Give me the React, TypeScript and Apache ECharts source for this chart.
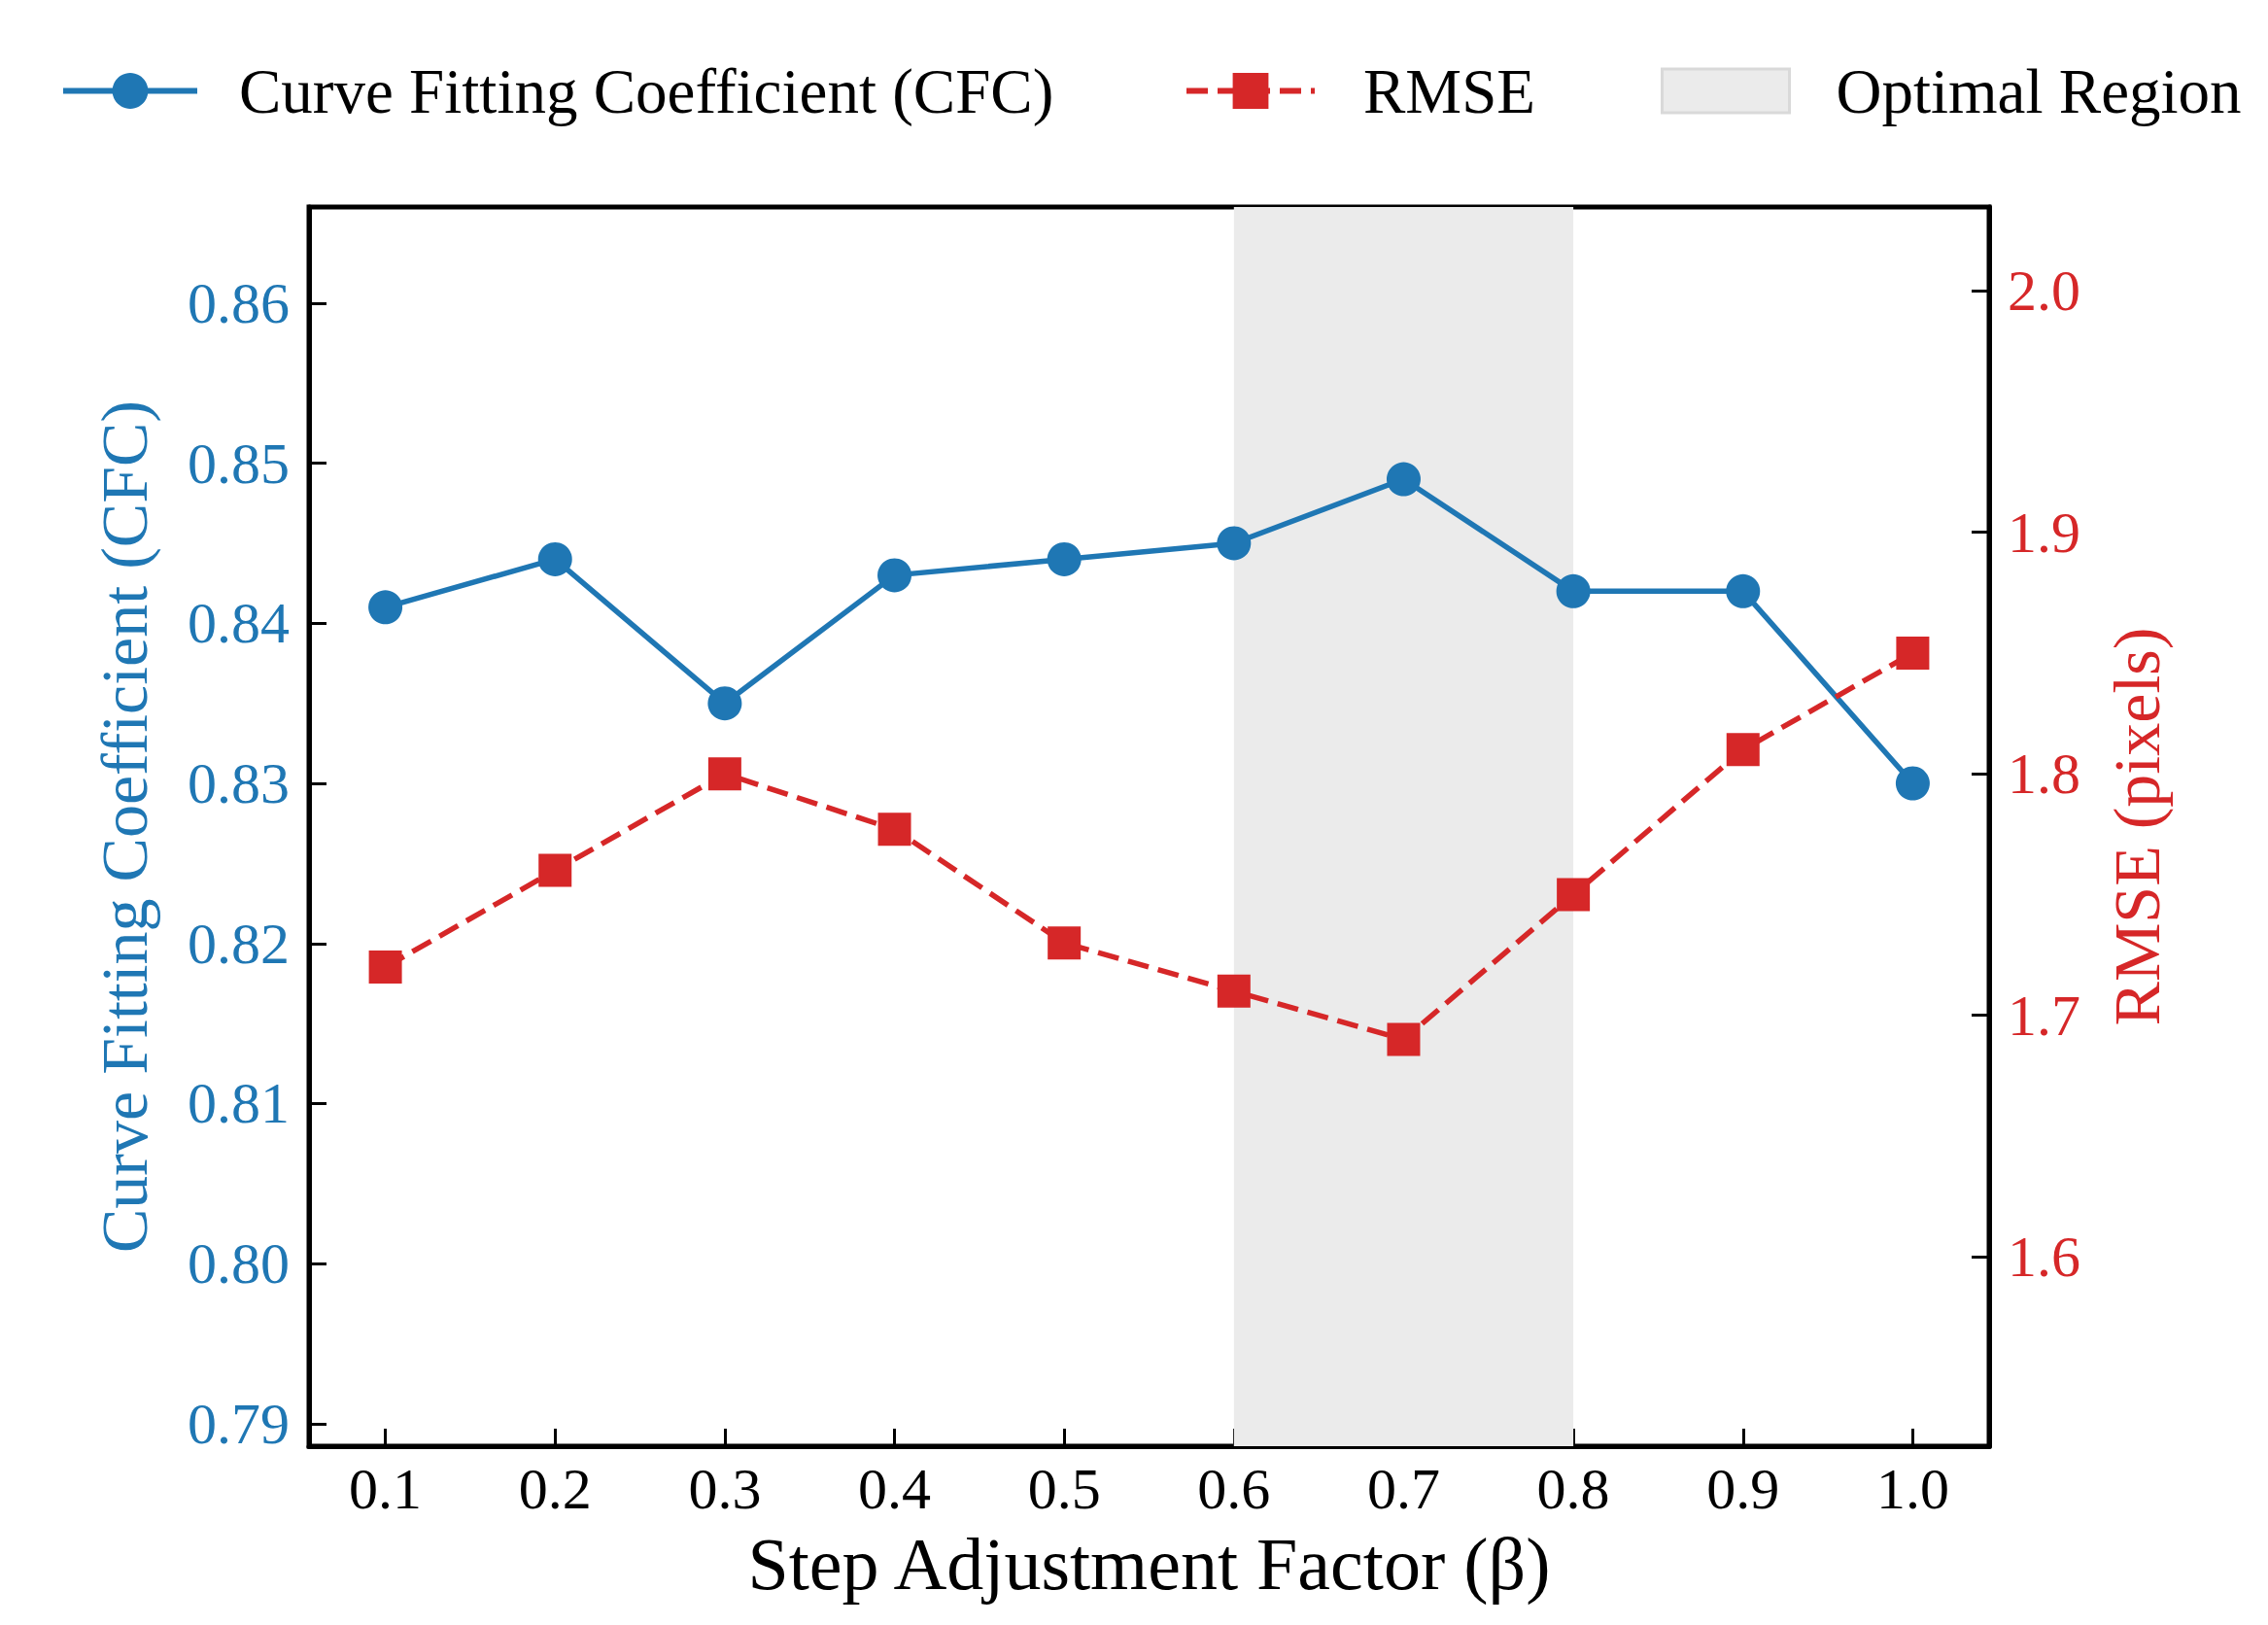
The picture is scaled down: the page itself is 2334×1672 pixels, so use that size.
import React, { useEffect, useRef } from "react";
import * as echarts from "echarts";

const betaValues = [0.1, 0.2, 0.3, 0.4, 0.5, 0.6, 0.7, 0.8, 0.9, 1.0];
const cfcValues = [0.841, 0.844, 0.835, 0.843, 0.844, 0.845, 0.849, 0.842, 0.842, 0.83];
const rmseValues = [1.72, 1.76, 1.8, 1.777, 1.73, 1.71, 1.69, 1.75, 1.81, 1.85];
const optimalRegion = [0.6, 0.8];
const leftTicks = [0.79, 0.8, 0.81, 0.82, 0.83, 0.84, 0.85, 0.86];
const rightTicks = [1.6, 1.7, 1.8, 1.9, 2.0];
const xTicks = [0.1, 0.2, 0.3, 0.4, 0.5, 0.6, 0.7, 0.8, 0.9, 1.0];

const BLUE = "#1f77b4";
const RED = "#d62728";
const FONT = "Liberation Serif";

export default function App() {
  const ref = useRef<HTMLDivElement>(null);
  useEffect(() => {
    if (!ref.current) return;
    const chart = echarts.init(ref.current, null, { renderer: "svg" });
    const legendText = (pad: number) => ({
      fontFamily: FONT,
      fontSize: 65,
      color: "#000",
      padding: [0, 0, 0, pad],
    });
    const tickStyle = { color: "#000", width: 3 };
    chart.setOption({
      animation: false,
      backgroundColor: "#fff",
      grid: {
        left: 318,
        top: 213,
        width: 1729,
        height: 1275,
        show: true,
        borderColor: "#000",
        borderWidth: 5,
        backgroundColor: "transparent",
      },
      legend: [
        {
          left: 57,
          top: 56,
          itemWidth: 138,
          itemHeight: 46,
          data: [{ name: "Curve Fitting Coefficient (CFC)" }],
          lineStyle: { width: 6, color: BLUE },
          textStyle: legendText(38),
        },
        {
          left: 1213,
          top: 56,
          itemWidth: 132,
          itemHeight: 46,
          data: [{ name: "RMSE" }],
          lineStyle: { width: 6, color: RED, type: [22, 10] },
          textStyle: legendText(45),
        },
        {
          left: 1704,
          top: 56,
          itemWidth: 131,
          itemHeight: 45,
          data: [
            {
              name: "Optimal Region",
              icon: "rect",
              itemStyle: { color: "#ebebeb", borderColor: "#d9d9d9", borderWidth: 3 },
            },
          ],
          textStyle: legendText(43),
        },
      ],
      xAxis: {
        type: "value",
        min: 0.055,
        max: 1.045,
        name: "Step Adjustment Factor (β)",
        nameLocation: "middle",
        nameGap: 83,
        nameTextStyle: { fontFamily: FONT, fontSize: 76, color: "#000" },
        axisLine: { show: true, lineStyle: { color: "#000", width: 5 } },
        axisTick: {
          show: true,
          inside: true,
          length: 18,
          lineStyle: tickStyle,
          customValues: xTicks,
        },
        axisLabel: {
          fontFamily: FONT,
          fontSize: 60,
          color: "#000",
          margin: 14,
          customValues: xTicks,
          formatter: (v: number) => v.toFixed(1),
        },
        splitLine: { show: false },
      },
      yAxis: [
        {
          type: "value",
          min: 0.7886,
          max: 0.866,
          position: "left",
          name: "Curve Fitting Coefficient (CFC)",
          nameLocation: "middle",
          nameRotate: 90,
          nameGap: 156,
          nameTextStyle: { fontFamily: FONT, fontSize: 68, color: BLUE },
          axisLine: { show: true, lineStyle: { color: "#000", width: 5 } },
          axisTick: {
            show: true,
            inside: true,
            length: 18,
            lineStyle: tickStyle,
            customValues: leftTicks,
          },
          axisLabel: {
            fontFamily: FONT,
            fontSize: 60,
            color: BLUE,
            margin: 20,
            customValues: leftTicks,
            formatter: (v: number) => v.toFixed(2),
          },
          splitLine: { show: false },
        },
        {
          type: "value",
          min: 1.5216,
          max: 2.0347,
          position: "right",
          name: "RMSE (pixels)",
          nameLocation: "middle",
          nameRotate: 90,
          nameGap: 118,
          nameTextStyle: { fontFamily: FONT, fontSize: 68, color: RED },
          axisLine: { show: true, lineStyle: { color: "#000", width: 5 } },
          axisTick: {
            show: true,
            inside: true,
            length: 18,
            lineStyle: tickStyle,
            customValues: rightTicks,
          },
          axisLabel: {
            fontFamily: FONT,
            fontSize: 60,
            color: RED,
            margin: 19,
            customValues: rightTicks,
            formatter: (v: number) => v.toFixed(1),
          },
          splitLine: { show: false },
        },
      ],
      series: [
        {
          name: "Optimal Region",
          type: "line",
          data: [],
          itemStyle: { color: "#ebebeb" },
          markArea: {
            silent: true,
            itemStyle: { color: "#ebebeb" },
            data: [[{ xAxis: optimalRegion[0] }, { xAxis: optimalRegion[1] }]],
          },
          z: 1,
        },
        {
          name: "Curve Fitting Coefficient (CFC)",
          type: "line",
          yAxisIndex: 0,
          data: betaValues.map((b, i) => [b, cfcValues[i]]),
          symbol: "circle",
          symbolSize: 35,
          lineStyle: { color: BLUE, width: 5.5 },
          itemStyle: { color: BLUE },
          z: 3,
        },
        {
          name: "RMSE",
          type: "line",
          yAxisIndex: 1,
          data: betaValues.map((b, i) => [b, rmseValues[i]]),
          symbol: "rect",
          symbolSize: 34,
          lineStyle: { color: RED, width: 5.5, type: [22, 10] },
          itemStyle: { color: RED },
          z: 3,
        },
      ],
    });
    return () => chart.dispose();
  }, []);
  return (
    <div
      ref={ref}
      style={{ position: "fixed", left: 0, top: 0, width: 2334, height: 1672 }}
    />
  );
}
